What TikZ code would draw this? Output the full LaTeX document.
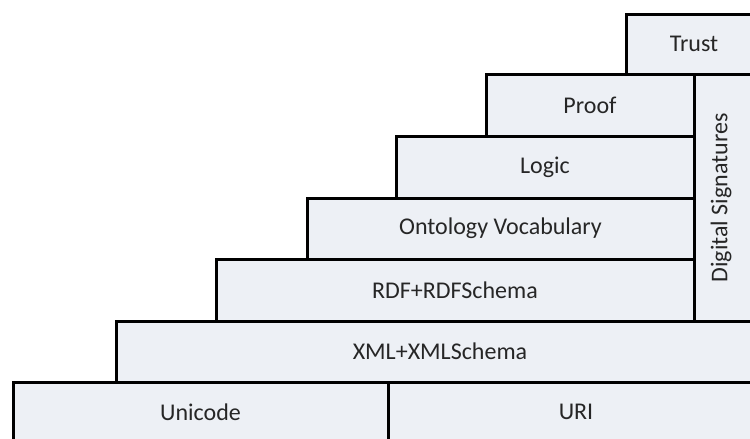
\documentclass[tikz,border=0pt]{standalone}
\usepackage{fontspec}
\setmainfont{Carlito}
\definecolor{layerfill}{HTML}{EDF0F5}
\begin{document}
\begin{tikzpicture}[x=1pt,y=-1pt,
  layer/.style={draw=black,line width=3pt,fill=layerfill},
  lbl/.style={font=\fontsize{24}{28}\selectfont,inner sep=0pt,text=black!85}]
\useasboundingbox (0,0) rectangle (750,439);
\begin{scope}
\clip (0,0) rectangle (750,439);
\draw[layer] (626,14) rectangle (762,74);
\draw[layer] (694,74) rectangle (764,321);
\draw[layer] (486,74) rectangle (694,136);
\draw[layer] (396,136) rectangle (694,198);
\draw[layer] (307,198) rectangle (694,259);
\draw[layer] (216,259) rectangle (694,321);
\draw[layer] (116,321) rectangle (764,382);
\draw[layer] (13,382) rectangle (388,446);
\draw[layer] (388,382) rectangle (764,446);
\end{scope}
\node[lbl] (trust) at (694,44) {Trust};
\node[lbl] (proof) at (590,105) {Proof};
\node[lbl] (logic) at (545,167) {Logic};
\node[lbl] (onto) at (500.5,228.5) {Ontology Vocabulary};
\node[lbl] (rdf) at (455,290) {RDF+RDFSchema};
\node[lbl] (xml) at (440,351.5) {XML+XMLSchema};
\node[lbl] (uni) at (200.5,412) {Unicode};
\node[lbl] (uri) at (576,412) {URI};
\node[lbl,rotate=90] (dsig) at (721,198) {Digital Signatures};
\end{tikzpicture}
\end{document}
